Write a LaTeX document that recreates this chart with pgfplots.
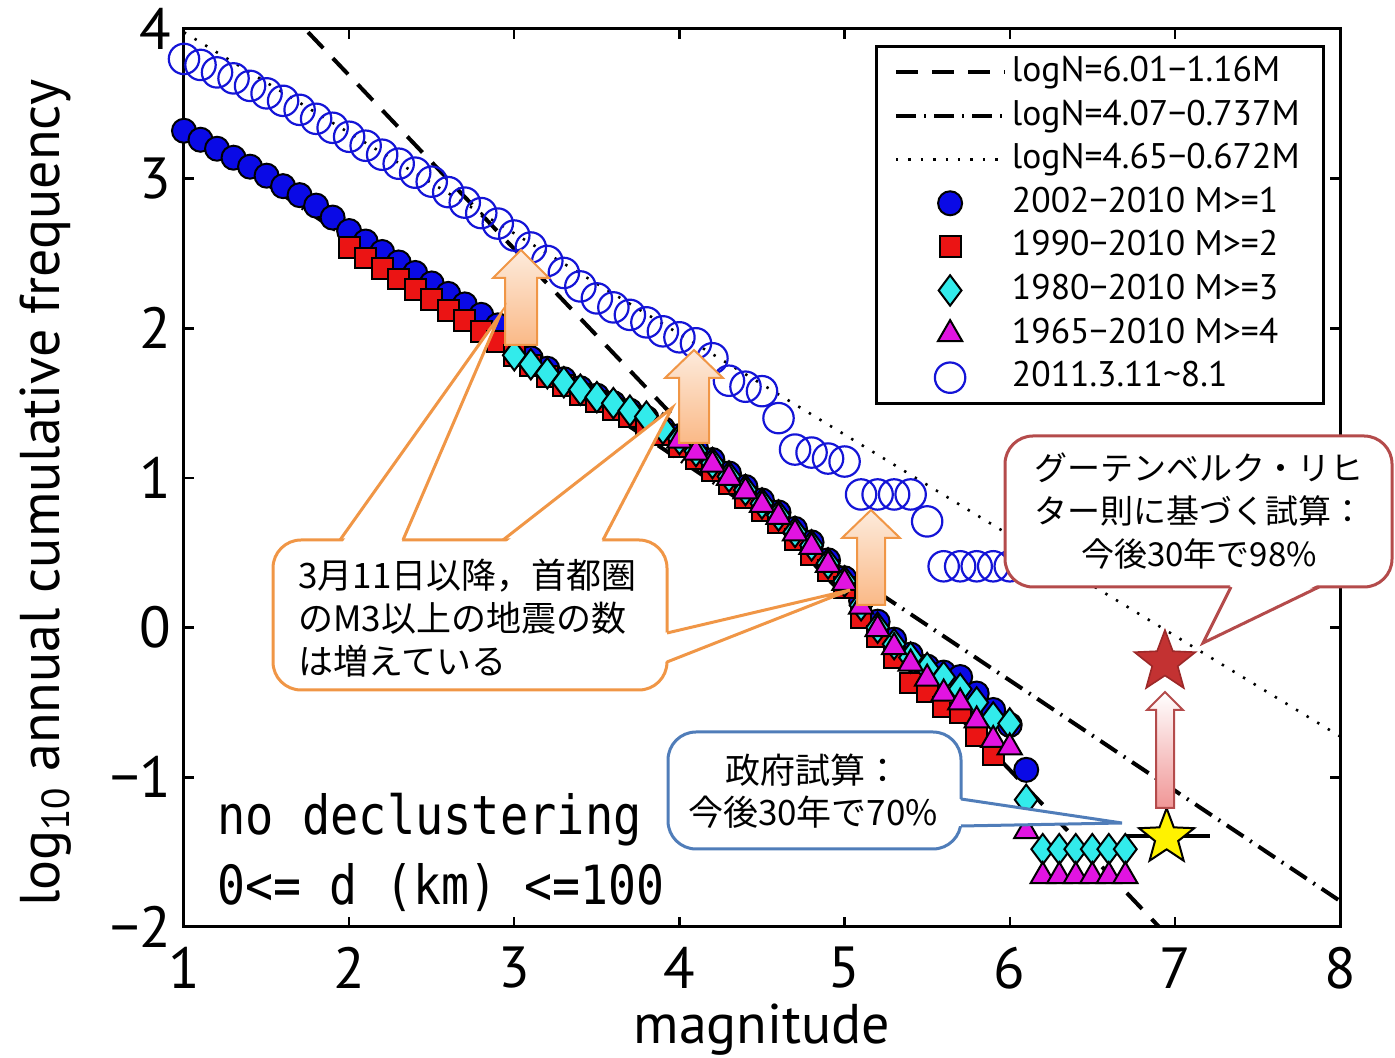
\documentclass[border=0pt]{standalone}
\usepackage{fontspec}
\setmainfont{PT Sans}
\newfontfamily\cjk{Noto Sans CJK JP}
\newfontfamily\mono{DejaVu Sans Mono}
\usepackage{graphicx}
\usepackage{pgfplots}
\pgfplotsset{compat=1.18}

\definecolor{cblue}{RGB}{10,10,230}
\definecolor{cred}{RGB}{235,20,20}
\definecolor{ccyan}{RGB}{50,235,235}
\definecolor{cmag}{RGB}{225,20,225}
\definecolor{ocirc}{RGB}{20,20,215}
\definecolor{calor}{RGB}{240,150,70}
\definecolor{calblue}{RGB}{80,125,185}
\definecolor{calred}{RGB}{180,75,75}
\definecolor{starred}{RGB}{195,50,50}
\definecolor{peach}{RGB}{250,185,135}
\definecolor{peachlight}{RGB}{253,235,220}
\definecolor{pinkd}{RGB}{240,150,150}

\pgfdeclareplotmark{fstar}{%
  \pgfpathmoveto{\pgfpointpolar{90}{\pgfplotmarksize}}%
  \pgfpathlineto{\pgfpointpolar{126}{0.42\pgfplotmarksize}}%
  \pgfpathlineto{\pgfpointpolar{162}{\pgfplotmarksize}}%
  \pgfpathlineto{\pgfpointpolar{198}{0.42\pgfplotmarksize}}%
  \pgfpathlineto{\pgfpointpolar{234}{\pgfplotmarksize}}%
  \pgfpathlineto{\pgfpointpolar{270}{0.42\pgfplotmarksize}}%
  \pgfpathlineto{\pgfpointpolar{306}{\pgfplotmarksize}}%
  \pgfpathlineto{\pgfpointpolar{342}{0.42\pgfplotmarksize}}%
  \pgfpathlineto{\pgfpointpolar{18}{\pgfplotmarksize}}%
  \pgfpathlineto{\pgfpointpolar{54}{0.42\pgfplotmarksize}}%
  \pgfpathclose
  \pgfusepathqfillstroke}

\begin{document}
\begin{tikzpicture}
\begin{axis}[
  scale only axis, width=578pt, height=449pt,
  xmin=1, xmax=8, ymin=-2, ymax=4,
  xtick={1,2,3,4,5,6,7,8}, xticklabels={1,2,3,4,5,6,7,8},
  ytick={-2,-1,0,1,2,3,4}, yticklabels={−2,−1,0,1,2,3,4},
  tick align=inside, major tick length=5pt,
  axis line style={line width=1.5pt},
  every tick/.style={line width=1.2pt, black},
  tick label style={font=\fontsize{29}{30}\selectfont},
  xticklabel style={anchor=center, yshift=-20.5pt, inner sep=0pt},
  yticklabel style={anchor=east, xshift=-6pt, inner sep=0pt},
  xlabel={magnitude}, ylabel={log\textsubscript{10} annual cumulative frequency},
  xlabel style={font=\fontsize{28}{29}\selectfont, at={(axis description cs:0.5,-0.1145)}, anchor=center},
  ylabel style={font=\fontsize{28}{29}\selectfont, at={(axis description cs:-0.12,0.483)}, anchor=center},
  legend cell align=left,
  legend style={at={(rel axis cs:0.987,0.982)}, anchor=north east, draw=black, line width=1.5pt,
    font=\fontsize{17.8}{18}\selectfont, inner xsep=9pt, inner ysep=2pt,
    nodes={text height=12.5pt, text depth=3.5pt, inner sep=2.9pt},
    /tikz/every even column/.append style={column sep=6pt}},
  legend image code/.code={\draw[mark repeat=2,mark phase=2,#1] plot coordinates {(0cm,0cm) (0.95cm,0cm) (1.9cm,0cm)};},
]
% fitted lines
\addplot[black, line width=2pt, dash pattern=on 11pt off 7pt] coordinates {(1,4.85) (8,-3.27)};
\addlegendentry{logN=6.01−1.16M}
\addplot[black, line width=2pt, dash pattern=on 10pt off 4pt on 1pt off 4pt] coordinates {(1,3.333) (8,-1.826)};
\addlegendentry{logN=4.07−0.737M}
\addplot[black, line width=1.3pt, dash pattern=on 1.2pt off 5pt] coordinates {(1,3.978) (8,-0.726)};
\addlegendentry{logN=4.65−0.672M}
% 2002-2010 M>=1
\addplot[only marks, mark=*, mark size=6pt, mark options={fill=cblue, draw=black, line width=1pt}] coordinates {
(1.0,3.32) (1.1,3.26) (1.2,3.20) (1.3,3.14) (1.4,3.08) (1.5,3.02) (1.6,2.95) (1.7,2.89) (1.8,2.82) (1.9,2.74)
(2.0,2.65) (2.1,2.58) (2.2,2.51) (2.3,2.44) (2.4,2.37) (2.5,2.30) (2.6,2.23) (2.7,2.16) (2.8,2.09) (2.9,2.02)
(3.0,1.88) (3.1,1.80) (3.2,1.73) (3.3,1.66) (3.4,1.60) (3.5,1.55) (3.6,1.50) (3.7,1.45) (3.8,1.40) (3.9,1.33)
(4.0,1.28) (4.1,1.20) (4.2,1.12) (4.3,1.03) (4.4,0.94) (4.5,0.85) (4.6,0.77) (4.7,0.66) (4.8,0.57) (4.9,0.45)
(5.0,0.33) (5.1,0.18) (5.2,0.04) (5.3,-0.08) (5.4,-0.18) (5.5,-0.26) (5.6,-0.30) (5.7,-0.33) (5.8,-0.44) (5.9,-0.55)
(6.0,-0.65) (6.1,-0.95)};
\addlegendentry{2002−2010 M>=1}
% 1990-2010 M>=2
\addplot[only marks, mark=square*, mark size=5.2pt, mark options={fill=cred, draw=black, line width=1pt}] coordinates {
(2.0,2.54) (2.1,2.47) (2.2,2.40) (2.3,2.33) (2.4,2.26) (2.5,2.19) (2.6,2.12) (2.7,2.05) (2.8,1.98) (2.9,1.91)
(3.0,1.82) (3.1,1.75) (3.2,1.68) (3.3,1.62) (3.4,1.56) (3.5,1.51) (3.6,1.46) (3.7,1.41) (3.8,1.36) (3.9,1.29)
(4.0,1.21) (4.1,1.13) (4.2,1.05) (4.3,0.96) (4.4,0.87) (4.5,0.78) (4.6,0.70) (4.7,0.59) (4.8,0.49) (4.9,0.38)
(5.0,0.27) (5.1,0.07) (5.2,-0.06) (5.3,-0.20) (5.4,-0.37) (5.5,-0.43) (5.6,-0.53) (5.7,-0.57) (5.8,-0.72) (5.9,-0.85)};
\addlegendentry{1990−2010 M>=2}
% 1980-2010 M>=3
\addplot[only marks, mark=diamond*, mark size=7.6pt, mark options={fill=ccyan, draw=black, line width=1pt}] coordinates {
(3.0,1.82) (3.1,1.76) (3.2,1.70) (3.3,1.64) (3.4,1.59) (3.5,1.54) (3.6,1.50) (3.7,1.45) (3.8,1.41) (3.9,1.33)
(4.0,1.26) (4.1,1.18) (4.2,1.10) (4.3,1.01) (4.4,0.92) (4.5,0.83) (4.6,0.75) (4.7,0.64) (4.8,0.55) (4.9,0.43)
(5.0,0.31) (5.1,0.15) (5.2,0.00) (5.3,-0.11) (5.4,-0.20) (5.5,-0.27) (5.6,-0.33) (5.7,-0.41) (5.8,-0.50) (5.9,-0.60)
(6.0,-0.64) (6.1,-1.15) (6.2,-1.48) (6.3,-1.48) (6.4,-1.48) (6.5,-1.48) (6.6,-1.48) (6.7,-1.48)};
\addlegendentry{1980−2010 M>=3}
% 1965-2010 M>=4
\addplot[only marks, mark=triangle*, mark size=7pt, mark options={fill=cmag, draw=black, line width=1pt}] coordinates {
(4.0,1.25) (4.1,1.17) (4.2,1.09) (4.3,1.00) (4.4,0.91) (4.5,0.82) (4.6,0.74) (4.7,0.63) (4.8,0.54) (4.9,0.42)
(5.0,0.30) (5.1,0.14) (5.2,-0.01) (5.3,-0.13) (5.4,-0.24) (5.5,-0.34) (5.6,-0.44) (5.7,-0.50) (5.8,-0.62) (5.9,-0.75)
(6.0,-0.80) (6.1,-1.36) (6.2,-1.66) (6.3,-1.66) (6.4,-1.66) (6.5,-1.66) (6.6,-1.66) (6.7,-1.66)};
\addlegendentry{1965−2010 M>=4}
% 2011.3.11~8.1
\addplot[only marks, mark=o, mark size=7.6pt, mark options={draw=ocirc, line width=1.1pt}] coordinates {
(1.0,3.80) (1.1,3.76) (1.2,3.71) (1.3,3.67) (1.4,3.62) (1.5,3.57) (1.6,3.52) (1.7,3.46) (1.8,3.40) (1.9,3.34)
(2.0,3.28) (2.1,3.22) (2.2,3.16) (2.3,3.10) (2.4,3.04) (2.5,2.98) (2.6,2.91) (2.7,2.84) (2.8,2.77) (2.9,2.70)
(3.0,2.62) (3.1,2.54) (3.2,2.45) (3.3,2.37) (3.4,2.28) (3.5,2.20) (3.6,2.14) (3.7,2.09) (3.8,2.04) (3.9,1.98)
(4.0,1.94) (4.1,1.90) (4.2,1.80) (4.3,1.65) (4.4,1.61) (4.5,1.58) (4.6,1.40) (4.7,1.19) (4.8,1.17) (4.9,1.13)
(5.0,1.11) (5.1,0.89) (5.2,0.89) (5.3,0.89) (5.4,0.89) (5.5,0.71) (5.6,0.41) (5.7,0.41) (5.8,0.41) (5.9,0.41) (6.0,0.41)};
\addlegendentry{2011.3.11\textasciitilde 8.1}
% government estimate: range line and stars
\addplot[forget plot, black, line width=2pt] coordinates {(6.71,-1.39) (7.21,-1.39)};
\addplot[forget plot, only marks, mark=fstar, mark size=14.5pt, mark options={fill=yellow, draw=black, line width=1pt}] coordinates {(6.95,-1.40)};
\addplot[forget plot, only marks, mark=fstar, mark size=16pt, mark options={fill=starred, draw=starred!80!black, line width=0.8pt}] coordinates {(6.94,-0.23)};
\end{axis}

\begin{scope}[x=0.5pt, y=-0.5pt, shift={(-92pt,463.5pt)}]
% block arrows
\shade[top color=peachlight, bottom color=peach, draw=calor, line width=1pt]
  (505,345) -- (505,278) -- (493,278) -- (521,250) -- (549,278) -- (537,278) -- (537,345) -- cycle;
\shade[top color=peachlight, bottom color=peach, draw=calor, line width=1pt]
  (679,443) -- (679,378) -- (665,378) -- (694,350) -- (723,378) -- (709,378) -- (709,443) -- cycle;
\shade[top color=peachlight, bottom color=peach, draw=calor, line width=1pt]
  (857,605) -- (857,538) -- (842,538) -- (871,510) -- (900,538) -- (885,538) -- (885,605) -- cycle;
\shade[top color=white, bottom color=pinkd, draw=calred, line width=1pt]
  (1156,808) -- (1156,710) -- (1147,710) -- (1165,692) -- (1183,710) -- (1174,710) -- (1174,808) -- cycle;

% orange callout
\filldraw[fill=white, draw=calor, line width=1.5pt, rounded corners=14pt] (273,540) rectangle (667,690);
\fill[white] (342,543) -- (500,315) -- (401,543) -- cycle;
\fill[white] (505,543) -- (672,408) -- (601,543) -- cycle;
\fill[white] (664,633) -- (850,590) -- (664,662) -- cycle;
\draw[calor, line width=1.5pt] (340,540) -- (500,315) -- (403,540);
\draw[calor, line width=1.5pt] (503,540) -- (672,408) -- (603,540);
\draw[calor, line width=1.5pt] (667,633) -- (850,590) -- (667,662);
\node[anchor=west, align=left, inner sep=0pt, font=\cjk\fontsize{17.5}{21.5}\selectfont] at (298,618)
  {3月11日以降，首都圏\\のM3以上の地震の数\\は増えている};

% blue callout
\filldraw[fill=white, draw=calblue, line width=1.5pt, rounded corners=14pt] (668,732) rectangle (961,849);
\fill[white] (958,799) -- (1122,823) -- (958,826) -- cycle;
\draw[calblue, line width=1.5pt] (961,799) -- (1122,823) -- (961,826);
\node[align=center, inner sep=0pt, font=\cjk\fontsize{17.5}{21}\selectfont] at (813,791)
  {政府試算：\\今後30年で70\%};

% red callout
\filldraw[fill=white, draw=calred, line width=1.5pt, rounded corners=14pt] (1005,436) rectangle (1392,587);
\fill[white] (1231,584) -- (1203,643) -- (1319,584) -- cycle;
\draw[calred, line width=1.5pt] (1231,587) -- (1203,643) -- (1319,587);
\node[align=center, inner sep=0pt, font=\cjk\fontsize{16.5}{21.5}\selectfont] at (1199,511)
  {グーテンベルク・リヒ\\ター則に基づく試算：\\今後30年で98\%};

% annotation text
\node[anchor=base west, inner sep=0pt, font=\mono\fontsize{27}{28}\selectfont] at (217,835)
  {\scalebox{0.87}[1]{no declustering}};
\node[anchor=base west, inner sep=0pt, font=\mono\fontsize{27}{28}\selectfont] at (217,905)
  {\scalebox{0.86}[1]{0<= d (km) <=100}};
\end{scope}

\pgfresetboundingbox
\path[use as bounding box] (-92pt,-65.5pt) rectangle (605.5pt,463.5pt);
\end{tikzpicture}
\end{document}
